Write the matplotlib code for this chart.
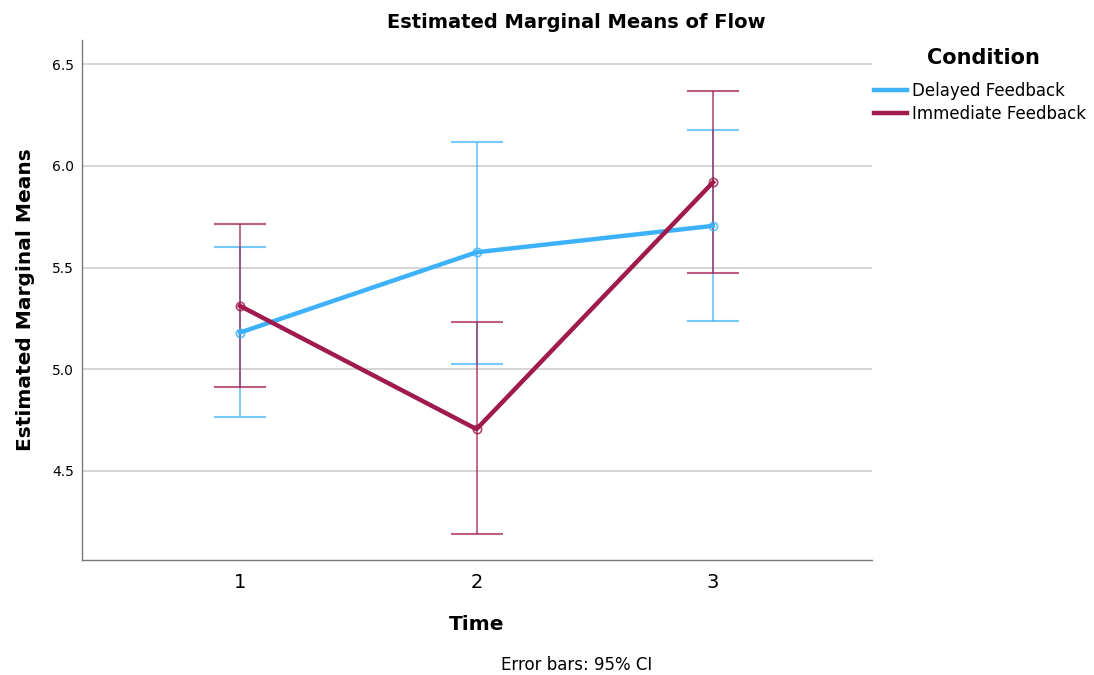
#!/usr/bin/env python3
"""Estimated Marginal Means of Flow - SPSS tarzi profil grafigi."""
import matplotlib
matplotlib.use("Agg")
import matplotlib.pyplot as plt

# veriler
zaman = [1, 2, 3]
gecikmeli_ort = [5.18, 5.575, 5.705]
gecikmeli_alt = [4.765, 5.025, 5.236]
gecikmeli_ust = [5.603, 6.118, 6.177]
aninda_ort = [5.311, 4.705, 5.919]
aninda_alt = [4.914, 4.187, 5.472]
aninda_ust = [5.713, 5.231, 6.367]
kosullar = ["Delayed Feedback", "Immediate Feedback"]
y_tikler = [4.5, 5.0, 5.5, 6.0, 6.5]

MAVI = "#3db2fb"
KIRMIZI = "#a01a4e"

plt.rcParams["font.family"] = ["DejaVu Sans"]

fig = plt.figure(figsize=(10.94, 6.75), dpi=100)
ax = fig.add_axes([0.075, 0.170, 0.722, 0.771])

for ort, alt, ust, renk, ad in [
    (gecikmeli_ort, gecikmeli_alt, gecikmeli_ust, MAVI, kosullar[0]),
    (aninda_ort, aninda_alt, aninda_ust, KIRMIZI, kosullar[1]),
]:
    hata = [[o - a for o, a in zip(ort, alt)], [u - o for o, u in zip(ort, ust)]]
    ax.errorbar(zaman, ort, yerr=hata, fmt="none", ecolor=renk, alpha=0.7,
                elinewidth=1.3, capsize=19, capthick=1.5, zorder=2)
    ax.plot(zaman, ort, "-", color=renk, linewidth=3.2, label=ad, zorder=3)
    ax.plot(zaman, ort, "o", mfc="none", mec=renk, ms=6, mew=1.2,
            alpha=0.8, zorder=4)

ax.set_xlim(0.332, 3.672)
ax.set_ylim(4.06, 6.62)
ax.set_xticks(zaman)
ax.set_yticks(y_tikler)
ax.set_yticklabels([f"{v:.1f}" for v in y_tikler])
ax.tick_params(axis="y", length=0, pad=6, labelsize=10)
ax.tick_params(axis="x", length=0, pad=9, labelsize=14)
ax.grid(axis="y", color="#d2d2d2", linewidth=1.3, zorder=0)
ax.set_axisbelow(True)
for k in ["top", "right"]:
    ax.spines[k].set_visible(False)
for k in ["left", "bottom"]:
    ax.spines[k].set_color("#7a7a7a")
    ax.spines[k].set_linewidth(1.0)

ax.set_xlabel("Time", fontsize=14.5, fontweight="bold")
ax.xaxis.set_label_coords(0.5, -0.105)
ax.set_ylabel("Estimated Marginal Means", fontsize=14.5, fontweight="bold")
ax.yaxis.set_label_coords(-0.06, 0.5)

fig.text(0.527, 0.967, "Estimated Marginal Means of Flow", ha="center",
         va="center", fontsize=14, fontweight="bold")
fig.text(0.527, 0.015, "Error bars: 95% CI", ha="center", va="center",
         fontsize=12)

# lejant: baslik ayri metin, girdiler ayri
fig.text(0.899, 0.914, "Condition", ha="center", va="center",
         fontsize=15, fontweight="bold")
leg = fig.legend(loc="upper left", bbox_to_anchor=(0.799, 0.879),
                 frameon=False, fontsize=12, handlelength=2.0,
                 handletextpad=0.3, labelspacing=0.3, borderpad=0,
                 borderaxespad=0)
for h in leg.legend_handles:
    h.set_linewidth(3.2)

fig.savefig("out.png", dpi=100)
